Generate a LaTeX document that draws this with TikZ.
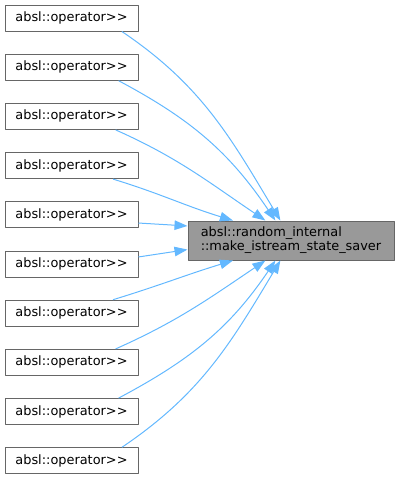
\documentclass[tikz,border=0pt]{standalone}
\usepackage{fontspec}
\setmainfont{DejaVu Sans}
\usetikzlibrary{arrows.meta}
\definecolor{callblue}{RGB}{99,184,255}
\definecolor{boxgray}{RGB}{102,102,102}
\definecolor{fngray}{RGB}{153,153,153}

\begin{document}
\begin{tikzpicture}[x=1pt,y=1pt,line join=round,
  caller/.style={draw=boxgray,fill=white,line width=1pt,minimum width=133pt,minimum height=26pt,inner sep=0pt,font=\fontsize{12.9}{14}\selectfont},
  callee/.style={draw=boxgray,fill=fngray,line width=1pt,minimum width=206pt,minimum height=39pt,inner sep=0pt,align=left,font=\fontsize{12.9}{14}\selectfont},
  call/.style={callblue,line width=1pt,-{Triangle[length=13pt,width=9.5pt]}}]
\useasboundingbox (0,0) rectangle (400,-480);
% callers
\node[caller] (op1) at (71.5,-18.0) {absl::operator>{}>};
\node[caller] (op2) at (71.5,-67.2) {absl::operator>{}>};
\node[caller] (op3) at (71.5,-116.4) {absl::operator>{}>};
\node[caller] (op4) at (71.5,-165.6) {absl::operator>{}>};
\node[caller] (op5) at (71.5,-214.8) {absl::operator>{}>};
\node[caller] (op6) at (71.5,-264.0) {absl::operator>{}>};
\node[caller] (op7) at (71.5,-313.2) {absl::operator>{}>};
\node[caller] (op8) at (71.5,-362.4) {absl::operator>{}>};
\node[caller] (op9) at (71.5,-411.6) {absl::operator>{}>};
\node[caller] (op10) at (71.5,-460.8) {absl::operator>{}>};
% callee
\node[callee] (saver) at (291,-240.5) {absl::random\_internal\\::make\_istream\_state\_saver};
% calls
\draw[call] (op1.-15) to[out=-34,in=121] (saver.118);
\draw[call] (op2.-16) to[out=-28,in=124] (saver.128);
\draw[call] (op3.-17) to[out=-24,in=146] (saver.142);
\draw[call] (op4.-18) to[out=-17,in=163] (saver.161);
\draw[call] (op5.-7) -- (saver.172.5);
\draw[call] (op6.6) -- (saver.185);
\draw[call] (op7.18) to[out=17,in=-163] (saver.-161);
\draw[call] (op8.17) to[out=24,in=-146] (saver.-142);
\draw[call] (op9.16) to[out=28,in=-124] (saver.-128);
\draw[call] (op10.15) to[out=34,in=-121] (saver.-118);
\end{tikzpicture}
\end{document}
